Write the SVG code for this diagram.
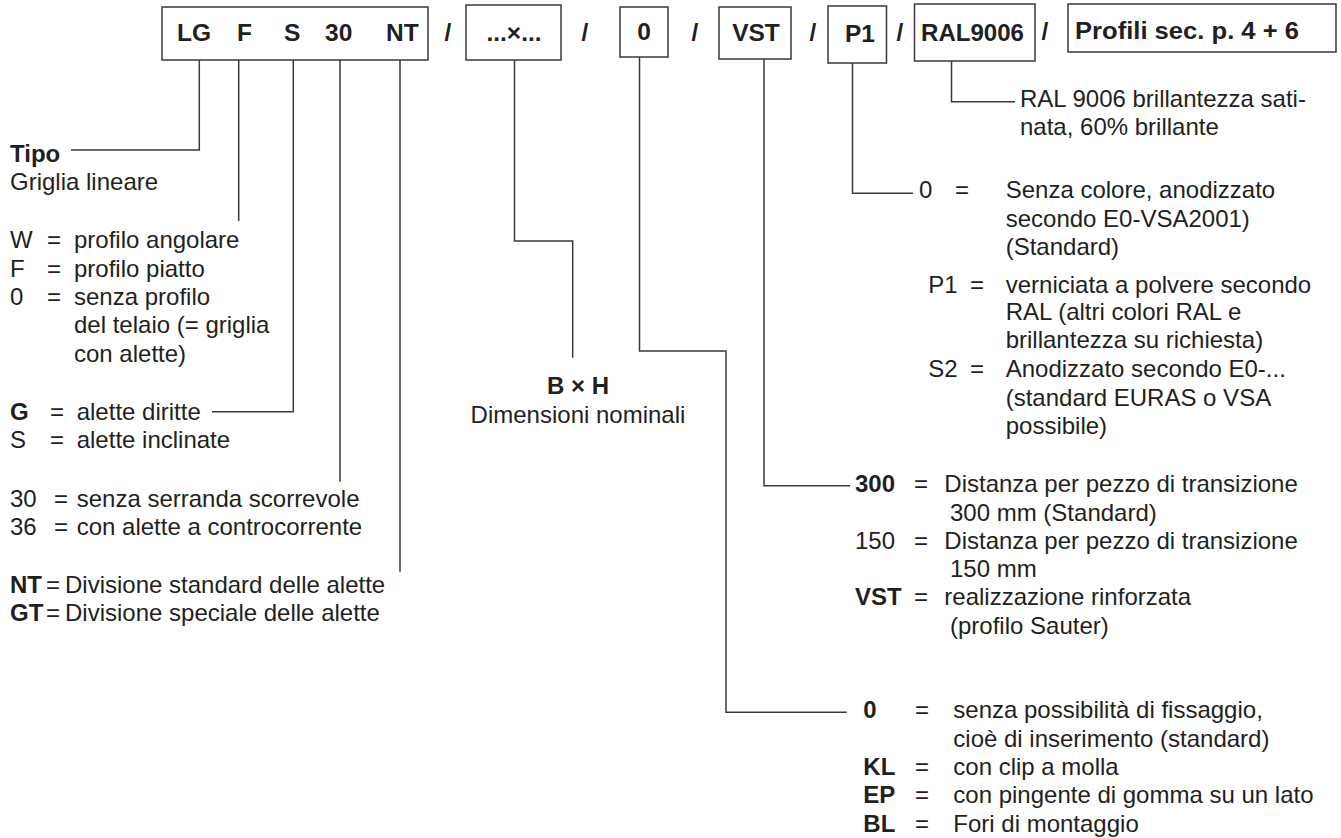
<svg xmlns="http://www.w3.org/2000/svg" width="1341" height="838" viewBox="0 0 1341 838">
<style>
text{font-family:"Liberation Sans",Arial,Helvetica,sans-serif;font-size:24px;fill:#231f20}
.b{font-weight:bold}
.m{text-anchor:middle}
.k{font-size:24.5px}
.box{fill:#fff;stroke:#3a3a3a;stroke-width:1.5}
.ln{fill:none;stroke:#3a3a3a;stroke-width:1.5}
</style>
<rect width="1341" height="838" fill="#fff"/>
<g id="connectors">
<path class="ln" d="M199.3,60 V150 H71"/>
<path class="ln" d="M238.7,60 V221"/>
<path class="ln" d="M293.3,60 V411.7 H212"/>
<path class="ln" d="M340,60 V481.7"/>
<path class="ln" d="M400,60 V571.7"/>
<path class="ln" d="M514.5,60 V241 H572.7 V357.7"/>
<path class="ln" d="M639.5,57 V351 H726 V712.3 H846.7"/>
<path class="ln" d="M764,59 V485.7 H850"/>
<path class="ln" d="M852.5,63 V193.3 H913"/>
<path class="ln" d="M951.5,61 V101.7 H1015"/>
</g>
<g id="code">
<g id="box-type"><rect class="box" x="162" y="7" width="266" height="53"/>
<text class="b k" x="177" y="41">LG</text><text class="b k" x="237" y="41">F</text><text class="b k" x="284" y="41">S</text><text class="b k" x="325" y="41">30</text><text class="b k" x="386" y="41">NT</text></g>
<text class="b k m" x="448" y="41">/</text>
<g id="box-size"><rect class="box" x="466" y="5" width="95" height="55"/><text class="b k m" x="514" y="41">...×...</text></g>
<text class="b k m" x="585" y="41">/</text>
<g id="box-fix"><rect class="box" x="620" y="7" width="48" height="50"/><text class="b k m" x="644" y="40">0</text></g>
<text class="b k m" x="695" y="41">/</text>
<g id="box-vst"><rect class="box" x="719" y="7" width="72" height="52"/><text class="b k m" x="756" y="41">VST</text></g>
<text class="b k m" x="813" y="41">/</text>
<g id="box-p1"><rect class="box" x="828" y="6" width="58.5" height="57"/><text class="b k m" x="860" y="42">P1</text></g>
<text class="b k m" x="900" y="41">/</text>
<g id="box-ral"><rect class="box" x="914.5" y="4" width="120.5" height="57"/><text class="b k" x="921" y="41" textLength="103" lengthAdjust="spacingAndGlyphs">RAL9006</text></g>
<text class="b k m" x="1045" y="40">/</text>
<g id="box-profili"><rect class="box" x="1068" y="4" width="268" height="48"/><text class="b k" x="1075" y="39" textLength="224" lengthAdjust="spacingAndGlyphs">Profili sec. p. 4 + 6</text></g>
</g>
<g id="desc-type">
<text class="b" x="10" y="162">Tipo</text>
<text x="10" y="190">Griglia lineare</text>
</g>
<g id="desc-frame">
<text x="10" y="248">W</text><text x="47" y="248">=</text><text x="74" y="248">profilo angolare</text>
<text x="10" y="276.7">F</text><text x="47" y="276.7">=</text><text x="74" y="276.7">profilo piatto</text>
<text x="10" y="305">0</text><text x="47" y="305">=</text><text x="74" y="305">senza profilo</text>
<text x="74" y="333.3">del telaio (= griglia</text>
<text x="74" y="361.7">con alette)</text>
</g>
<g id="desc-blades">
<text class="b" x="10" y="420">G</text><text x="50" y="420">=</text><text x="76.7" y="420">alette diritte</text>
<text x="10" y="448.3">S</text><text x="50" y="448.3">=</text><text x="76.7" y="448.3">alette inclinate</text>
</g>
<g id="desc-damper">
<text x="10" y="506.7">30</text><text x="54" y="506.7">=</text><text x="76.7" y="506.7">senza serranda scorrevole</text>
<text x="10" y="535">36</text><text x="54" y="535">=</text><text x="76.7" y="535">con alette a controcorrente</text>
</g>
<g id="desc-division">
<text class="b" x="10" y="593">NT</text><text x="46" y="593">=</text><text x="65" y="593">Divisione standard delle alette</text>
<text class="b" x="10" y="621.4">GT</text><text x="46" y="621.4">=</text><text x="65" y="621.4">Divisione speciale delle alette</text>
</g>
<g id="desc-size">
<text class="b m" x="578" y="394">B × H</text>
<text class="m" x="578" y="423">Dimensioni nominali</text>
</g>
<g id="desc-ral">
<text x="1020" y="106.7">RAL 9006 brillantezza sati-</text>
<text x="1020" y="135">nata, 60% brillante</text>
</g>
<g id="desc-finish">
<text x="919" y="198.3">0</text><text x="955" y="198.3">=</text><text x="1005.7" y="198.3">Senza colore, anodizzato</text>
<text x="1005.7" y="226.7">secondo E0-VSA2001)</text>
<text x="1005.7" y="255">(Standard)</text>
<text x="928.3" y="292.7">P1</text><text x="970" y="292.7">=</text><text x="1005.7" y="292.7">verniciata a polvere secondo</text>
<text x="1005.7" y="320">RAL (altri colori RAL e</text>
<text x="1005.7" y="348.3">brillantezza su richiesta)</text>
<text x="928.3" y="377.3">S2</text><text x="970" y="377.3">=</text><text x="1005.7" y="377.3">Anodizzato secondo E0-...</text>
<text x="1005.7" y="405.7">(standard EURAS o VSA</text>
<text x="1005.7" y="434">possibile)</text>
</g>
<g id="desc-transition">
<text class="b" x="855" y="492.3">300</text><text x="914" y="492.3">=</text><text x="944.3" y="492.3">Distanza per pezzo di transizione</text>
<text x="950" y="520.5">300 mm (Standard)</text>
<text x="855" y="548.5">150</text><text x="914" y="548.5">=</text><text x="944.3" y="548.5">Distanza per pezzo di transizione</text>
<text x="950" y="577">150 mm</text>
<text class="b" x="855" y="605">VST</text><text x="914" y="605">=</text><text x="944.3" y="605">realizzazione rinforzata</text>
<text x="950" y="634">(profilo Sauter)</text>
</g>
<g id="desc-mounting">
<text class="b" x="863.3" y="718.3">0</text><text x="915" y="718.3">=</text><text x="953.3" y="718.3">senza possibilità di fissaggio,</text>
<text x="953.3" y="746.7">cioè di inserimento (standard)</text>
<text class="b" x="863.3" y="775">KL</text><text x="915" y="775">=</text><text x="953.3" y="775">con clip a molla</text>
<text class="b" x="863.3" y="803.3">EP</text><text x="915" y="803.3">=</text><text x="953.3" y="803.3">con pingente di gomma su un lato</text>
<text class="b" x="863.3" y="831.7">BL</text><text x="915" y="831.7">=</text><text x="953.3" y="831.7">Fori di montaggio</text>
</g>
</svg>
